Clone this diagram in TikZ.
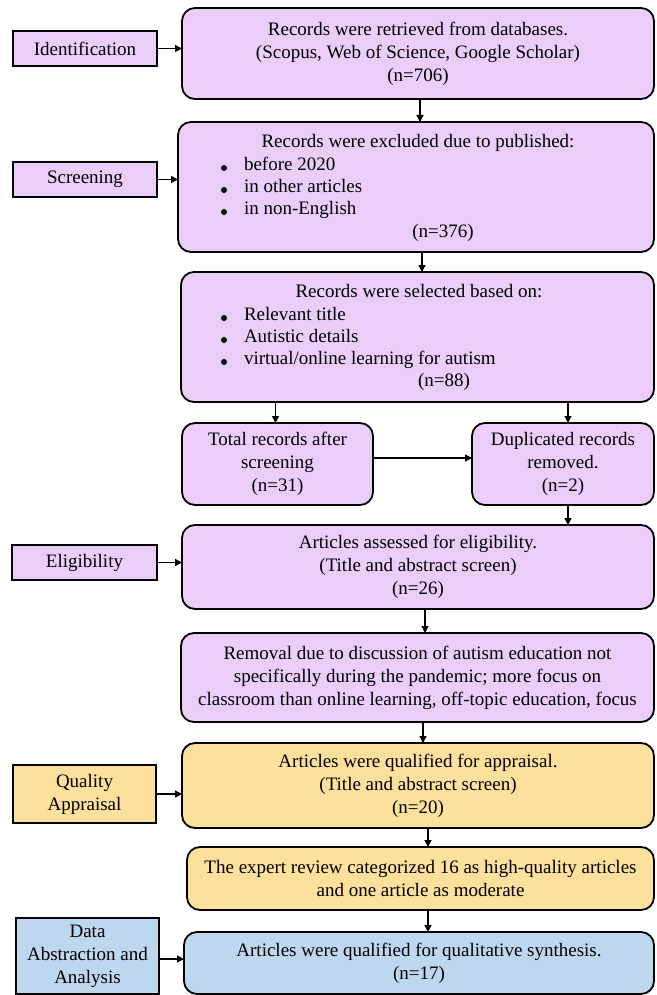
\documentclass[tikz,border=0pt]{standalone}
\usepackage{fontspec}
\setmainfont{Liberation Serif}
\usetikzlibrary{arrows.meta}
\definecolor{lav}{HTML}{EACDF8}
\definecolor{gold}{HTML}{FCE09B}
\definecolor{sky}{HTML}{BDD7EE}
\begin{document}
\begin{tikzpicture}[x=1pt,y=-1pt,
  every node/.style={font=\fontsize{19}{23}\selectfont, inner sep=0pt, outer sep=0pt},
  stagebox/.style={draw, line width=1.8pt, align=center, anchor=north west},
  rbox/.style={draw, line width=1.8pt, rounded corners=13pt, align=center, anchor=north west},
  txt/.style={anchor=mid},
  itm/.style={anchor=mid west},
  dotmark/.style={fill=black},
  arr/.style={line width=1.3pt, -{Triangle[length=7pt,width=7pt]}}]
\useasboundingbox (0,0) rectangle (656,995);

% stage labels
\node[stagebox, fill=lav, minimum width=144pt, minimum height=35pt] (id) at (13,31) {Identification};
\node[stagebox, fill=lav, minimum width=144pt, minimum height=35pt] (scr) at (13,162) {Screening};
\node[stagebox, fill=lav, minimum width=145pt, minimum height=35pt] (elig) at (12,545) {Eligibility};
\node[stagebox, fill=gold, minimum width=143pt, minimum height=58pt] (qual) at (13,765) {Quality\\Appraisal};
\node[stagebox, fill=sky, minimum width=143pt, minimum height=76pt] (dat) at (16,918) {Data\\Abstraction and\\Analysis};

% main boxes
\node[rbox, fill=lav, minimum width=472pt, minimum height=91pt] (b1) at (182,8)
  {Records were retrieved from databases.\\(Scopus, Web of Science, Google Scholar)\\(n=706)};
\node[rbox, fill=lav, minimum width=476pt, minimum height=130pt] (b2) at (178,122) {};
\node[txt] (b2t) at (418,145) {Records were excluded due to published:};
\node[itm] (b2a) at (244,168) {before 2020};
\node[itm] (b2b) at (244,190) {in other articles};
\node[itm] (b2c) at (244,212) {in non-English};
\node[txt] (b2n) at (443,235) {(n=376)};
\foreach \yy in {168,190,212} \fill[dotmark] (224,\yy) circle (3pt);

\node[rbox, fill=lav, minimum width=473pt, minimum height=130pt] (b3) at (181,272) {};
\node[txt] (b3t) at (419,295) {Records were selected based on:};
\node[itm] (b3a) at (244,318) {Relevant title};
\node[itm] (b3b) at (244,340) {Autistic details};
\node[itm] (b3c) at (244,362) {virtual/online learning for autism};
\node[txt] (b3n) at (444,384) {(n=88)};
\foreach \yy in {318,340,362} \fill[dotmark] (224,\yy) circle (3pt);

\node[rbox, fill=lav, minimum width=191pt, minimum height=82pt] (b4) at (182,423)
  {Total records after\\screening\\(n=31)};
\node[rbox, fill=lav, minimum width=182pt, minimum height=82pt] (b5) at (472,423)
  {Duplicated records\\removed.\\(n=2)};
\node[rbox, fill=lav, minimum width=472pt, minimum height=84pt] (b6) at (182,525)
  {Articles assessed for eligibility.\\(Title and abstract screen)\\(n=26)};
\node[rbox, fill=lav, minimum width=473pt, minimum height=89pt] (b7) at (181,633)
  {Removal due to discussion of autism education not\\specifically during the pandemic; more focus on\\classroom than online learning, off-topic education, focus};
\node[rbox, fill=gold, minimum width=472pt, minimum height=85pt] (b8) at (182,743)
  {Articles were qualified for appraisal.\\(Title and abstract screen)\\(n=20)};
\node[rbox, fill=gold, minimum width=467pt, minimum height=63pt] (b9) at (187,847)
  {The expert review categorized 16 as high-quality articles\\and one article as moderate};
\node[rbox, fill=sky, minimum width=470pt, minimum height=62pt] (b10) at (184,932)
  {Articles were qualified for qualitative synthesis.\\(n=17)};

% side arrows
\draw[arr] (id.east) -- (id.east -| b1.west);
\draw[arr] (scr.east) -- (scr.east -| b2.west);
\draw[arr] (elig.east) -- (elig.east -| b6.west);
\draw[arr] (qual.east) -- (qual.east -| b8.west);
\draw[arr] ([yshift=-3pt]dat.east) -- ([yshift=-3pt]dat.east -| b10.west);

% flow arrows
\draw[arr] ([xshift=2pt]b1.south) -- ([xshift=2pt]b1.south |- b2.north);
\draw[arr] ([xshift=6pt]b2.south) -- ([xshift=6pt]b2.south |- b3.north);
\draw[arr] ([xshift=-2pt]b4.north |- b3.south) -- ([xshift=-2pt]b4.north);
\draw[arr] ([xshift=5pt]b5.north |- b3.south) -- ([xshift=5pt]b5.north);
\draw[arr] ([yshift=6pt]b4.east) -- ([yshift=6pt]b4.east -| b5.west);
\draw[arr] ([xshift=5pt]b5.south) -- ([xshift=5pt]b5.south |- b6.north);
\draw[arr] ([xshift=7pt]b6.south) -- ([xshift=7pt]b6.south |- b7.north);
\draw[arr] ([xshift=5.5pt]b7.south) -- ([xshift=5.5pt]b7.south |- b8.north);
\draw[arr] ([xshift=10pt]b8.south) -- ([xshift=10pt]b8.south |- b9.north);
\draw[arr] ([xshift=7.5pt]b9.south) -- ([xshift=7.5pt]b9.south |- b10.north);
\end{tikzpicture}
\end{document}
